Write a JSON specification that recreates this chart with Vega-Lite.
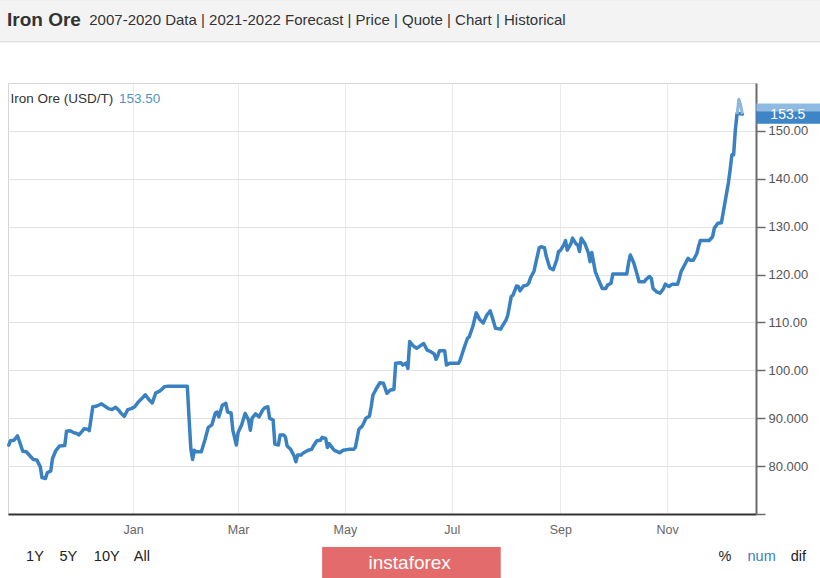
{
  "$schema": "https://vega.github.io/schema/vega-lite/v6.json",
  "width": 748,
  "height": 431,
  "autosize": {"type": "none"},
  "padding": {"left": 8, "top": 83, "right": 64, "bottom": 64},
  "background": "#ffffff",
  "config": {"font": "Liberation Sans", "view": {"stroke": "#d6d6d6", "fill": "#ffffff"}},
  "datasets": {
    "prices": [
      {"date": "2019-10-22", "price": 84.4}, {"date": "2019-10-23", "price": 85.3}, {"date": "2019-10-25", "price": 85.4},
      {"date": "2019-10-27", "price": 86.3}, {"date": "2019-10-28", "price": 85.3}, {"date": "2019-10-30", "price": 83.1},
      {"date": "2019-11-01", "price": 83.0}, {"date": "2019-11-04", "price": 81.8}, {"date": "2019-11-05", "price": 81.4},
      {"date": "2019-11-07", "price": 81.3}, {"date": "2019-11-09", "price": 79.9}, {"date": "2019-11-10", "price": 77.6},
      {"date": "2019-11-12", "price": 77.4}, {"date": "2019-11-13", "price": 78.6}, {"date": "2019-11-15", "price": 79.0},
      {"date": "2019-11-16", "price": 81.6}, {"date": "2019-11-18", "price": 83.3}, {"date": "2019-11-20", "price": 84.2},
      {"date": "2019-11-23", "price": 84.3}, {"date": "2019-11-24", "price": 87.3}, {"date": "2019-11-26", "price": 87.4},
      {"date": "2019-11-28", "price": 87.0}, {"date": "2019-11-30", "price": 86.8}, {"date": "2019-12-01", "price": 86.5},
      {"date": "2019-12-03", "price": 87.3}, {"date": "2019-12-04", "price": 87.8}, {"date": "2019-12-06", "price": 87.7},
      {"date": "2019-12-07", "price": 87.4}, {"date": "2019-12-09", "price": 92.4}, {"date": "2019-12-11", "price": 92.5},
      {"date": "2019-12-14", "price": 93.0}, {"date": "2019-12-16", "price": 92.5}, {"date": "2019-12-18", "price": 92.0},
      {"date": "2019-12-20", "price": 91.8}, {"date": "2019-12-22", "price": 92.3}, {"date": "2019-12-24", "price": 91.6},
      {"date": "2019-12-25", "price": 91.1}, {"date": "2019-12-27", "price": 90.4}, {"date": "2019-12-28", "price": 91.1},
      {"date": "2019-12-29", "price": 91.8}, {"date": "2019-12-31", "price": 92.0}, {"date": "2020-01-02", "price": 92.4},
      {"date": "2020-01-04", "price": 93.4}, {"date": "2020-01-06", "price": 94.1}, {"date": "2020-01-08", "price": 94.9},
      {"date": "2020-01-10", "price": 93.9}, {"date": "2020-01-12", "price": 93.2}, {"date": "2020-01-14", "price": 95.3},
      {"date": "2020-01-16", "price": 95.6}, {"date": "2020-01-17", "price": 95.9}, {"date": "2020-01-19", "price": 96.6},
      {"date": "2020-01-21", "price": 96.7}, {"date": "2020-02-01", "price": 96.7}, {"date": "2020-02-02", "price": 90.0},
      {"date": "2020-02-03", "price": 83.7}, {"date": "2020-02-04", "price": 81.4}, {"date": "2020-02-05", "price": 83.3},
      {"date": "2020-02-06", "price": 83.0}, {"date": "2020-02-09", "price": 83.0}, {"date": "2020-02-11", "price": 85.4},
      {"date": "2020-02-13", "price": 88.1}, {"date": "2020-02-15", "price": 88.6}, {"date": "2020-02-17", "price": 91.1},
      {"date": "2020-02-18", "price": 91.3}, {"date": "2020-02-19", "price": 90.3}, {"date": "2020-02-21", "price": 92.7},
      {"date": "2020-02-23", "price": 93.1}, {"date": "2020-02-24", "price": 91.3}, {"date": "2020-02-26", "price": 91.1},
      {"date": "2020-02-27", "price": 87.5}, {"date": "2020-02-29", "price": 84.4}, {"date": "2020-03-01", "price": 87.0},
      {"date": "2020-03-03", "price": 88.6}, {"date": "2020-03-05", "price": 91.0}, {"date": "2020-03-07", "price": 89.6},
      {"date": "2020-03-08", "price": 87.5}, {"date": "2020-03-09", "price": 90.0}, {"date": "2020-03-11", "price": 90.9},
      {"date": "2020-03-13", "price": 90.3}, {"date": "2020-03-15", "price": 91.7}, {"date": "2020-03-16", "price": 92.1},
      {"date": "2020-03-18", "price": 92.4}, {"date": "2020-03-19", "price": 90.0}, {"date": "2020-03-21", "price": 89.6},
      {"date": "2020-03-22", "price": 84.6}, {"date": "2020-03-24", "price": 84.4}, {"date": "2020-03-25", "price": 86.5},
      {"date": "2020-03-27", "price": 86.5}, {"date": "2020-03-28", "price": 86.1}, {"date": "2020-03-29", "price": 84.2},
      {"date": "2020-03-31", "price": 83.5}, {"date": "2020-04-02", "price": 82.1}, {"date": "2020-04-03", "price": 80.9},
      {"date": "2020-04-04", "price": 82.3}, {"date": "2020-04-06", "price": 82.3}, {"date": "2020-04-07", "price": 82.7},
      {"date": "2020-04-10", "price": 83.3}, {"date": "2020-04-12", "price": 83.5}, {"date": "2020-04-13", "price": 84.2},
      {"date": "2020-04-15", "price": 85.3}, {"date": "2020-04-17", "price": 85.4}, {"date": "2020-04-18", "price": 86.0},
      {"date": "2020-04-20", "price": 85.8}, {"date": "2020-04-21", "price": 83.9}, {"date": "2020-04-22", "price": 84.7},
      {"date": "2020-04-24", "price": 83.7}, {"date": "2020-04-25", "price": 83.3}, {"date": "2020-04-28", "price": 82.8},
      {"date": "2020-04-30", "price": 83.3}, {"date": "2020-05-03", "price": 83.5}, {"date": "2020-05-06", "price": 83.5},
      {"date": "2020-05-07", "price": 83.9}, {"date": "2020-05-09", "price": 87.7}, {"date": "2020-05-11", "price": 88.4},
      {"date": "2020-05-13", "price": 90.0}, {"date": "2020-05-15", "price": 90.4}, {"date": "2020-05-16", "price": 92.4},
      {"date": "2020-05-17", "price": 94.8}, {"date": "2020-05-19", "price": 96.2}, {"date": "2020-05-21", "price": 97.4},
      {"date": "2020-05-23", "price": 97.3}, {"date": "2020-05-25", "price": 95.2}, {"date": "2020-05-27", "price": 95.9},
      {"date": "2020-05-29", "price": 96.0}, {"date": "2020-05-30", "price": 101.5}, {"date": "2020-06-02", "price": 101.6},
      {"date": "2020-06-03", "price": 101.1}, {"date": "2020-06-05", "price": 101.5}, {"date": "2020-06-06", "price": 100.4},
      {"date": "2020-06-07", "price": 106.0}, {"date": "2020-06-09", "price": 105.1}, {"date": "2020-06-11", "price": 104.6},
      {"date": "2020-06-13", "price": 105.1}, {"date": "2020-06-15", "price": 105.6}, {"date": "2020-06-17", "price": 104.2},
      {"date": "2020-06-19", "price": 103.9}, {"date": "2020-06-21", "price": 103.4}, {"date": "2020-06-22", "price": 102.3},
      {"date": "2020-06-23", "price": 103.0}, {"date": "2020-06-24", "price": 104.1}, {"date": "2020-06-27", "price": 104.1},
      {"date": "2020-06-28", "price": 101.1}, {"date": "2020-06-30", "price": 101.5}, {"date": "2020-07-05", "price": 101.5},
      {"date": "2020-07-06", "price": 102.3}, {"date": "2020-07-08", "price": 104.6}, {"date": "2020-07-10", "price": 106.7},
      {"date": "2020-07-11", "price": 107.0}, {"date": "2020-07-13", "price": 109.1}, {"date": "2020-07-15", "price": 112.0},
      {"date": "2020-07-17", "price": 110.6}, {"date": "2020-07-19", "price": 109.9}, {"date": "2020-07-21", "price": 111.5},
      {"date": "2020-07-23", "price": 112.4}, {"date": "2020-07-24", "price": 111.3}, {"date": "2020-07-26", "price": 108.8},
      {"date": "2020-07-29", "price": 108.6}, {"date": "2020-07-30", "price": 109.3}, {"date": "2020-08-01", "price": 110.5},
      {"date": "2020-08-02", "price": 111.5}, {"date": "2020-08-04", "price": 115.4}, {"date": "2020-08-05", "price": 115.7},
      {"date": "2020-08-07", "price": 117.6}, {"date": "2020-08-08", "price": 117.5}, {"date": "2020-08-09", "price": 116.6},
      {"date": "2020-08-11", "price": 117.6}, {"date": "2020-08-13", "price": 117.8}, {"date": "2020-08-14", "price": 118.2},
      {"date": "2020-08-15", "price": 119.3}, {"date": "2020-08-17", "price": 120.7}, {"date": "2020-08-18", "price": 122.4},
      {"date": "2020-08-20", "price": 125.6}, {"date": "2020-08-21", "price": 125.8}, {"date": "2020-08-23", "price": 125.6},
      {"date": "2020-08-24", "price": 123.8}, {"date": "2020-08-26", "price": 121.4}, {"date": "2020-08-28", "price": 121.0},
      {"date": "2020-08-30", "price": 123.1}, {"date": "2020-08-31", "price": 124.8}, {"date": "2020-09-01", "price": 125.0},
      {"date": "2020-09-03", "price": 126.2}, {"date": "2020-09-04", "price": 127.1}, {"date": "2020-09-05", "price": 125.1},
      {"date": "2020-09-07", "price": 126.4}, {"date": "2020-09-08", "price": 127.6}, {"date": "2020-09-10", "price": 126.4},
      {"date": "2020-09-11", "price": 126.2}, {"date": "2020-09-12", "price": 124.8}, {"date": "2020-09-13", "price": 127.6},
      {"date": "2020-09-15", "price": 126.5}, {"date": "2020-09-17", "price": 124.6}, {"date": "2020-09-18", "price": 122.7},
      {"date": "2020-09-19", "price": 124.6}, {"date": "2020-09-21", "price": 120.6}, {"date": "2020-09-23", "price": 118.8},
      {"date": "2020-09-25", "price": 117.1}, {"date": "2020-09-27", "price": 117.1}, {"date": "2020-09-28", "price": 117.8},
      {"date": "2020-09-30", "price": 118.2}, {"date": "2020-10-01", "price": 120.1}, {"date": "2020-10-09", "price": 120.1},
      {"date": "2020-10-10", "price": 122.4}, {"date": "2020-10-11", "price": 124.1}, {"date": "2020-10-13", "price": 122.4},
      {"date": "2020-10-15", "price": 119.9}, {"date": "2020-10-16", "price": 118.5}, {"date": "2020-10-19", "price": 118.5},
      {"date": "2020-10-20", "price": 119.0}, {"date": "2020-10-22", "price": 119.6}, {"date": "2020-10-23", "price": 119.2},
      {"date": "2020-10-24", "price": 117.1}, {"date": "2020-10-26", "price": 116.4}, {"date": "2020-10-28", "price": 116.1},
      {"date": "2020-10-30", "price": 117.1}, {"date": "2020-10-31", "price": 118.0}, {"date": "2020-11-02", "price": 117.5},
      {"date": "2020-11-04", "price": 118.0}, {"date": "2020-11-07", "price": 118.0}, {"date": "2020-11-08", "price": 119.2},
      {"date": "2020-11-09", "price": 120.6}, {"date": "2020-11-11", "price": 122.0}, {"date": "2020-11-13", "price": 123.4},
      {"date": "2020-11-14", "price": 123.0}, {"date": "2020-11-16", "price": 123.0}, {"date": "2020-11-18", "price": 124.4},
      {"date": "2020-11-19", "price": 125.9}, {"date": "2020-11-20", "price": 127.1}, {"date": "2020-11-25", "price": 127.1},
      {"date": "2020-11-27", "price": 127.9}, {"date": "2020-11-28", "price": 129.7}, {"date": "2020-11-30", "price": 130.7},
      {"date": "2020-12-02", "price": 130.8}, {"date": "2020-12-03", "price": 132.8}, {"date": "2020-12-05", "price": 137.0},
      {"date": "2020-12-06", "price": 139.1}, {"date": "2020-12-07", "price": 141.8}, {"date": "2020-12-08", "price": 145.0},
      {"date": "2020-12-09", "price": 145.0}, {"date": "2020-12-10", "price": 150.2}, {"date": "2020-12-11", "price": 153.7},
      {"date": "2020-12-14", "price": 153.5}
    ],
    "peak": [
      {"date": "2020-12-11", "price": 153.5}, {"date": "2020-12-12", "price": 156.6},
      {"date": "2020-12-13", "price": 155.4}, {"date": "2020-12-14", "price": 153.5}
    ],
    "boxes": [
      {"name": "header", "date": "2019-08-01", "date2": "2021-04-01", "price": 168.6, "price2": 177.4},
      {"name": "currentHigh", "date": "2020-12-22", "date2": "2021-03-01", "price": 154.1, "price2": 155.7},
      {"name": "current", "date": "2020-12-22", "date2": "2021-03-01", "price": 151.5, "price2": 154.1},
      {"name": "brand", "date": "2020-04-18", "date2": "2020-07-29", "price": 54, "price2": 63.1}
    ],
    "labels": [
      {"group": "heading", "text": "Iron Ore", "date": "2019-10-21", "price": 173.2},
      {"group": "links", "text": "2007-2020 Data | 2021-2022 Forecast | Price | Quote | Chart | Historical", "date": "2019-12-07", "price": 173.2},
      {"group": "legendName", "text": "Iron Ore (USD/T)", "date": "2019-10-23", "price": 156.7},
      {"group": "legendValue", "text": "153.50", "date": "2019-12-24", "price": 156.7},
      {"group": "current", "text": "153.5", "date": "2021-01-09", "price": 153.3},
      {"group": "button", "text": "1Y", "date": "2019-11-06", "price": 61},
      {"group": "button", "text": "5Y", "date": "2019-11-25", "price": 61},
      {"group": "button", "text": "10Y", "date": "2019-12-17", "price": 61},
      {"group": "button", "text": "All", "date": "2020-01-06", "price": 61},
      {"group": "brand", "text": "instaforex", "date": "2020-06-07", "price": 59.8},
      {"group": "mode", "text": "%", "date": "2020-12-04", "price": 61},
      {"group": "modeActive", "text": "num", "date": "2020-12-25", "price": 61},
      {"group": "mode", "text": "dif", "date": "2021-01-15", "price": 61}
    ]
  },
  "layer": [
    {
      "data": {"name": "boxes"},
      "transform": [{"filter": "datum.name == 'header'"}],
      "mark": {"type": "rect", "fill": "#f3f3f3", "stroke": "#d9d9d9", "strokeWidth": 1, "clip": false},
      "encoding": {
        "x": {"field": "date", "type": "temporal"}, "x2": {"field": "date2"},
        "y": {"field": "price", "type": "quantitative"}, "y2": {"field": "price2"}
      }
    },
    {
      "data": {"name": "prices"},
      "mark": {"type": "line", "color": "#3a81c2", "strokeWidth": 3.5, "strokeJoin": "round", "strokeCap": "round"},
      "encoding": {
        "x": {
          "field": "date", "type": "temporal", "title": null,
          "scale": {"type": "utc", "domain": [
            {"year": 2019, "month": 10, "date": 21, "hours": 14, "utc": true},
            {"year": 2020, "month": 12, "date": 21, "hours": 19, "utc": true}
          ]},
          "axis": {
            "values": [
              {"year": 2020, "month": 1, "date": 1, "utc": true},
              {"year": 2020, "month": 3, "date": 1, "utc": true},
              {"year": 2020, "month": 5, "date": 1, "utc": true},
              {"year": 2020, "month": 7, "date": 1, "utc": true},
              {"year": 2020, "month": 9, "date": 1, "utc": true},
              {"year": 2020, "month": 11, "date": 1, "utc": true}
            ],
            "format": "%b", "grid": true, "gridColor": "#ebebeb", "ticks": false,
            "domainColor": "#333333", "domainWidth": 2,
            "labelColor": "#666666", "labelFontSize": 12.5, "labelPadding": 9
          }
        },
        "y": {
          "field": "price", "type": "quantitative", "title": null,
          "scale": {"domain": [70, 160], "zero": false, "nice": false},
          "axis": {
            "orient": "right", "values": [70, 80, 90, 100, 110, 120, 130, 140, 150],
            "format": ".5r", "labelExpr": "datum.value == 70 ? '' : datum.label",
            "grid": true, "gridColor": "#e2e2e2",
            "domainColor": "#6b6b6b", "domainWidth": 2,
            "tickColor": "#6b6b6b", "tickSize": 9, "tickWidth": 1.5,
            "labelColor": "#555555", "labelFontSize": 13, "labelPadding": 3
          }
        }
      }
    },
    {
      "data": {"name": "peak"},
      "mark": {"type": "line", "color": "#8cb6de", "strokeWidth": 3, "strokeJoin": "round"},
      "encoding": {
        "x": {"field": "date", "type": "temporal"},
        "y": {"field": "price", "type": "quantitative"}
      }
    },
    {
      "mark": {"type": "rule", "color": "#4646c8", "strokeDash": [1, 2], "strokeWidth": 1},
      "encoding": {"y": {"datum": 153.5}}
    },
    {
      "data": {"name": "boxes"},
      "transform": [{"filter": "datum.name == 'currentHigh'"}],
      "mark": {"type": "rect", "fill": "#8fbbe3", "clip": false},
      "encoding": {
        "x": {"field": "date", "type": "temporal"}, "x2": {"field": "date2"},
        "y": {"field": "price", "type": "quantitative"}, "y2": {"field": "price2"}
      }
    },
    {
      "data": {"name": "boxes"},
      "transform": [{"filter": "datum.name == 'current'"}],
      "mark": {"type": "rect", "fill": "#3d85c6", "clip": false},
      "encoding": {
        "x": {"field": "date", "type": "temporal"}, "x2": {"field": "date2"},
        "y": {"field": "price", "type": "quantitative"}, "y2": {"field": "price2"}
      }
    },
    {
      "data": {"name": "boxes"},
      "transform": [{"filter": "datum.name == 'brand'"}],
      "mark": {"type": "rect", "fill": "#e46b6b", "clip": false},
      "encoding": {
        "x": {"field": "date", "type": "temporal"}, "x2": {"field": "date2"},
        "y": {"field": "price", "type": "quantitative"}, "y2": {"field": "price2"}
      }
    },
    {
      "data": {"name": "labels"},
      "transform": [{"filter": "datum.group == 'heading'"}],
      "mark": {"type": "text", "align": "left", "baseline": "middle", "fontSize": 19, "fontWeight": "bold", "color": "#333333", "clip": false},
      "encoding": {
        "x": {"field": "date", "type": "temporal"},
        "y": {"field": "price", "type": "quantitative"},
        "text": {"field": "text"}
      }
    },
    {
      "data": {"name": "labels"},
      "transform": [{"filter": "datum.group == 'links'"}],
      "mark": {"type": "text", "align": "left", "baseline": "middle", "fontSize": 15, "color": "#333333", "clip": false},
      "encoding": {
        "x": {"field": "date", "type": "temporal"},
        "y": {"field": "price", "type": "quantitative"},
        "text": {"field": "text"}
      }
    },
    {
      "data": {"name": "labels"},
      "transform": [{"filter": "datum.group == 'legendName'"}],
      "mark": {"type": "text", "align": "left", "baseline": "middle", "fontSize": 13.5, "color": "#333333", "clip": false},
      "encoding": {
        "x": {"field": "date", "type": "temporal"},
        "y": {"field": "price", "type": "quantitative"},
        "text": {"field": "text"}
      }
    },
    {
      "data": {"name": "labels"},
      "transform": [{"filter": "datum.group == 'legendValue'"}],
      "mark": {"type": "text", "align": "left", "baseline": "middle", "fontSize": 13.5, "color": "#4f93c9", "clip": false},
      "encoding": {
        "x": {"field": "date", "type": "temporal"},
        "y": {"field": "price", "type": "quantitative"},
        "text": {"field": "text"}
      }
    },
    {
      "data": {"name": "labels"},
      "transform": [{"filter": "datum.group == 'current'"}],
      "mark": {"type": "text", "align": "center", "baseline": "middle", "fontSize": 14, "color": "#ffffff", "clip": false},
      "encoding": {
        "x": {"field": "date", "type": "temporal"},
        "y": {"field": "price", "type": "quantitative"},
        "text": {"field": "text"}
      }
    },
    {
      "data": {"name": "labels"},
      "transform": [{"filter": "datum.group == 'button' || datum.group == 'mode'"}],
      "mark": {"type": "text", "align": "center", "baseline": "middle", "fontSize": 14.5, "color": "#222222", "clip": false},
      "encoding": {
        "x": {"field": "date", "type": "temporal"},
        "y": {"field": "price", "type": "quantitative"},
        "text": {"field": "text"}
      }
    },
    {
      "data": {"name": "labels"},
      "transform": [{"filter": "datum.group == 'modeActive'"}],
      "mark": {"type": "text", "align": "center", "baseline": "middle", "fontSize": 14.5, "color": "#3a7fc0", "clip": false},
      "encoding": {
        "x": {"field": "date", "type": "temporal"},
        "y": {"field": "price", "type": "quantitative"},
        "text": {"field": "text"}
      }
    },
    {
      "data": {"name": "labels"},
      "transform": [{"filter": "datum.group == 'brand'"}],
      "mark": {"type": "text", "align": "center", "baseline": "middle", "fontSize": 19, "color": "#ffffff", "clip": false},
      "encoding": {
        "x": {"field": "date", "type": "temporal"},
        "y": {"field": "price", "type": "quantitative"},
        "text": {"field": "text"}
      }
    }
  ]
}
